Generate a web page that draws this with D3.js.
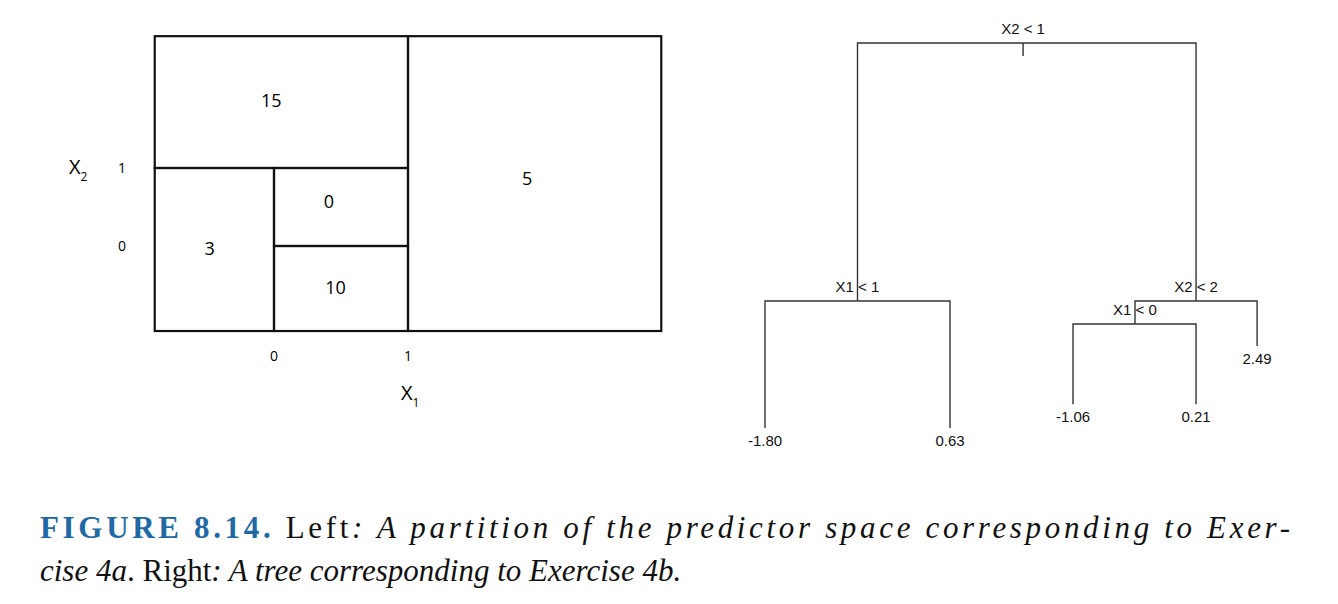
<!DOCTYPE html>
<html><head><meta charset="utf-8">
<script src="https://cdn.jsdelivr.net/npm/d3@7"></script>
<style>body{margin:0;background:#fff}</style></head>
<body><svg id="c" width="1338" height="604"></svg>
<script>
// Left panel: partition regions
const regions = [
  {x0:-0.89,x1:1,y0:1,y1:2.69,v:"15",lx:-0.02,ly:1.85},
  {x0:-0.89,x1:0,y0:-1.09,y1:1,v:"3",lx:-0.48,ly:-0.05},
  {x0:0,x1:1,y0:0,y1:1,v:"0",lx:0.41,ly:0.55},
  {x0:0,x1:1,y0:-1.09,y1:0,v:"10",lx:0.46,ly:-0.55},
  {x0:1,x1:2.89,y0:-1.09,y1:2.69,v:"5",lx:1.89,ly:0.85}
];
const x1Ticks = [0,1];
const x2Ticks = [0,1];
// Right panel: tree nodes (pos = horizontal position, h = node height)
const treeNodes = [
  {id:"root",pos:1.395,h:10,label:"X2 < 1"},
  {id:"a",pos:0.5,h:3.3,parent:"root",label:"X1 < 1"},
  {id:"b",pos:2.33,h:3.3,parent:"root",label:"X2 < 2"},
  {id:"l1",pos:0,h:0,parent:"a",label:"-1.80"},
  {id:"l2",pos:1,h:0,parent:"a",label:"0.63"},
  {id:"c",pos:2.0,h:2.7,parent:"b",label:"X1 < 0"},
  {id:"l5",pos:2.66,h:2.13,parent:"b",label:"2.49"},
  {id:"l3",pos:1.665,h:0.62,parent:"c",label:"-1.06"},
  {id:"l4",pos:2.33,h:0.62,parent:"c",label:"0.21"}
];
const svg = d3.select("#c");
const sx = d3.scaleLinear().domain([0,1]).range([274,408]);
const sy = d3.scaleLinear().domain([0,1]).range([246,168]);
const g = svg.append("g");
regions.forEach(r=>{
  g.append("rect").attr("x",sx(r.x0)).attr("y",sy(r.y1))
   .attr("width",sx(r.x1)-sx(r.x0)).attr("height",sy(r.y0)-sy(r.y1))
   .attr("fill","none").attr("stroke","#111").attr("stroke-width",2.2);
  g.append("text").attr("x",sx(r.lx)).attr("y",sy(r.ly)).attr("text-anchor","middle")
   .attr("dominant-baseline","middle").attr("font-family","Open Sans, sans-serif").attr("font-size",18).text(r.v);
});
x1Ticks.forEach(t=>g.append("text").attr("x",sx(t)).attr("y",361).attr("text-anchor","middle")
  .attr("font-family","Open Sans, sans-serif").attr("font-size",14).text(t));
x2Ticks.forEach(t=>g.append("text").attr("x",122).attr("y",sy(t)+5).attr("text-anchor","middle")
  .attr("font-family","Open Sans, sans-serif").attr("font-size",14).text(t));
const xl = g.append("text").attr("x",401).attr("y",400).attr("font-family","Open Sans, sans-serif").attr("font-size",20).text("X");
xl.append("tspan").attr("dy",7).attr("font-size",12).text("1");
const yl = g.append("text").attr("x",69).attr("y",174).attr("font-family","Open Sans, sans-serif").attr("font-size",20).text("X");
yl.append("tspan").attr("dy",7).attr("font-size",12).text("2");

// Tree
const tx = d3.scaleLinear().domain([0,1]).range([765,950]);
const ty = d3.scaleLinear().domain([0,10]).range([428,43]);
const byId = Object.fromEntries(treeNodes.map(n=>[n.id,n]));
const t = svg.append("g").attr("stroke","#333").attr("stroke-width",1.4).attr("fill","none");
treeNodes.filter(n=>n.parent).forEach(n=>{
  const p = byId[n.parent];
  t.append("path").attr("d",`M${tx(p.pos)},${ty(p.h)}H${tx(n.pos)}V${ty(n.h)}`);
});
const root = byId.root;
t.append("line").attr("x1",tx(root.pos)).attr("x2",tx(root.pos)).attr("y1",ty(root.h)).attr("y2",ty(root.h)+13);
const lab = svg.append("g").attr("font-family","Liberation Sans, Arial, sans-serif").attr("font-size",15).attr("fill","#111");
treeNodes.forEach(n=>{
  const leaf = !treeNodes.some(m=>m.parent===n.id);
  const x = tx(n.pos), y = ty(n.h);
  lab.append("text").attr("x",x).attr("y",leaf ? y+18 : y-9).attr("text-anchor","middle").text(n.label);
});

// Caption
const cap = svg.append("g").attr("font-family","Liberation Serif, 'DejaVu Serif', serif").attr("font-size",31).attr("fill","#111");
const l1 = cap.append("text").attr("x",40).attr("y",538).attr("textLength",1250).attr("lengthAdjust","spacing");
l1.append("tspan").attr("font-weight","bold").attr("fill","#1f6aa5").text("FIGURE 8.14. ");
l1.append("tspan").text("Left");
l1.append("tspan").attr("font-style","italic").text(": A partition of the predictor space corresponding to Exer-");
const l2 = cap.append("text").attr("x",40).attr("y",581);
l2.append("tspan").attr("font-style","italic").text("cise 4a");
l2.append("tspan").text(". Right");
l2.append("tspan").attr("font-style","italic").text(": A tree corresponding to Exercise 4b.");
</script></body></html>
